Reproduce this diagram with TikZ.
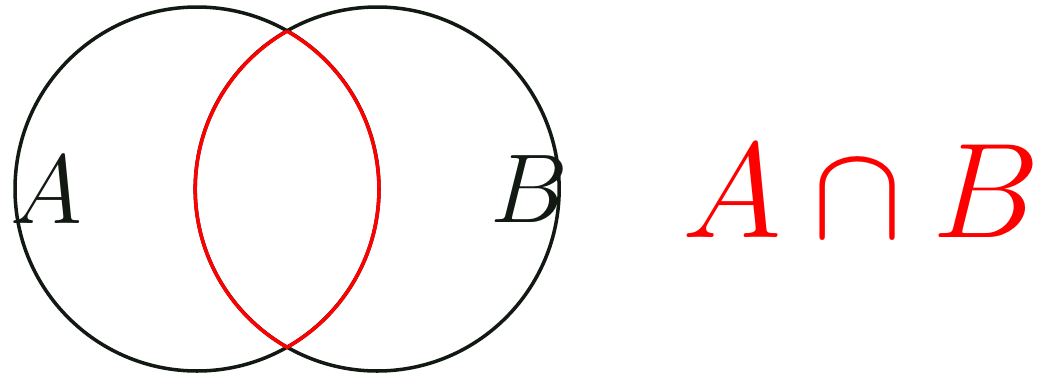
\documentclass[tikz,border=0pt]{standalone}
\definecolor{inkblack}{rgb}{0.07,0.1,0.07}
\begin{document}
\begin{tikzpicture}[
  setline/.style={line width=1.1pt, draw=inkblack},
  lensline/.style={line width=1.1pt, draw=red},
  setlabel/.style={inner sep=0pt, anchor=base, text=inkblack, font=\Huge, scale=1.23},
  formula/.style={inner sep=0pt, anchor=base, text=red, font=\Huge, scale=1.70}
]
\useasboundingbox (-2.165,-2.055) rectangle (9.253,2.077);
\coordinate (ca) at (0,0);
\coordinate (cb) at (1.98,0);
\draw[setline] (ca) circle[radius=2];
\draw[setline] (cb) circle[radius=2];
\coordinate (top) at (0.99,1.7346);
\draw[lensline] (top) arc[start angle=60.31, end angle=-60.31, radius=2]
  arc[start angle=240.31, end angle=119.69, radius=2];
\node[setlabel] (la) at (-1.66,-0.374) {$A$};
\node[setlabel] (lb) at (3.654,-0.363) {$B$};
\node[formula] (f) at (7.30,-0.538) {$A\cap B$};
\end{tikzpicture}
\end{document}
